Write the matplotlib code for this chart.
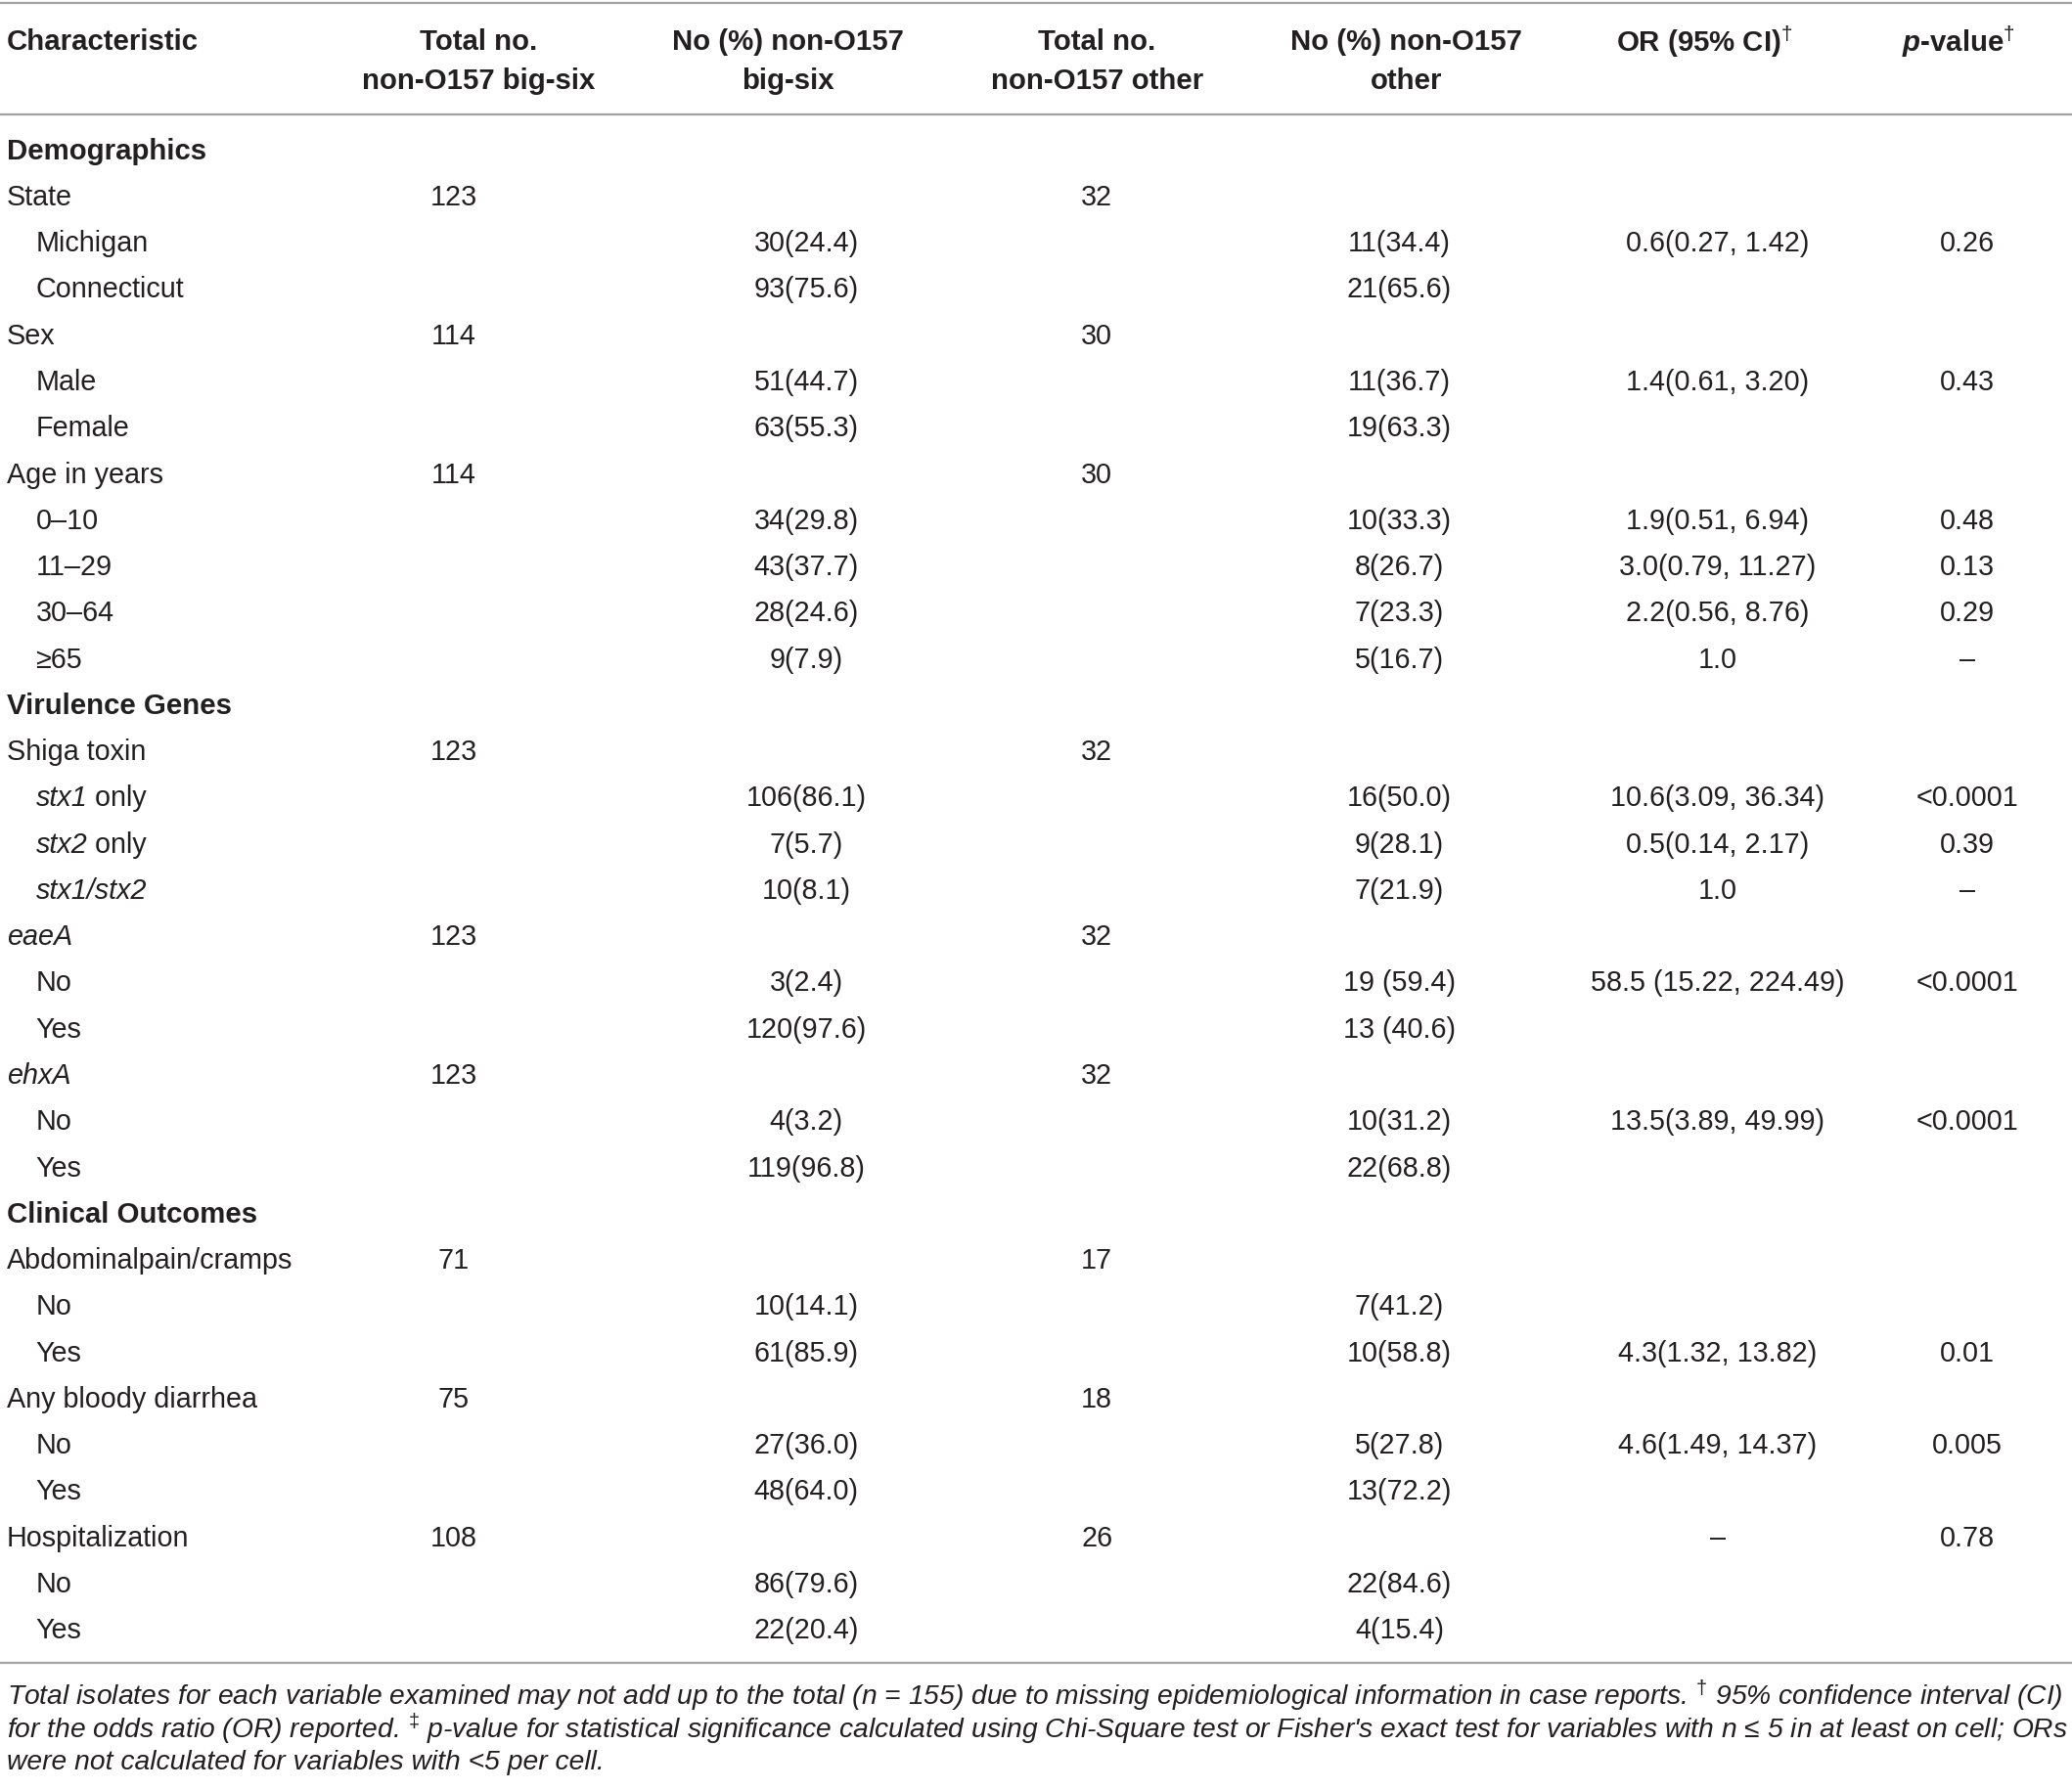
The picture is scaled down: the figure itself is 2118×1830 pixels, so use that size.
import matplotlib
matplotlib.use("Agg")
import matplotlib.pyplot as plt

plt.rcParams['font.family'] = ['Liberation Sans', 'DejaVu Sans']
plt.rcParams['mathtext.fontset'] = 'custom'
plt.rcParams['mathtext.rm'] = 'Liberation Sans'
plt.rcParams['mathtext.it'] = 'Liberation Sans:italic'
plt.rcParams['mathtext.bf'] = 'Liberation Sans:bold'
plt.rcParams['mathtext.bfit'] = 'Liberation Sans:bold:italic'

# ---- table data ----
header_top = ["Characteristic", "Total no.", "No (%) non-O157", "Total no.",
              "No (%) non-O157", r"OR (95% CI)$^{\dagger}$", r"$\mathbfit{p}$-value$^{\dagger}$"]
header_bot = ["", "non-O157 big-six", "big-six", "non-O157 other", "other", "", ""]

# labels: "*...*" marks an italic run
labels = ["Demographics", "State", "Michigan", "Connecticut", "Sex", "Male", "Female",
          "Age in years", "0–10", "11–29", "30–64", "≥65",
          "Virulence Genes", "Shiga toxin", "*stx1* only", "*stx2* only",
          "*stx1/stx2*", "*eaeA*", "No", "Yes", "*ehxA*", "No", "Yes",
          "Clinical Outcomes", "Abdominalpain/cramps", "No", "Yes", "Any bloody diarrhea",
          "No", "Yes", "Hospitalization", "No", "Yes"]
# 0 = section heading, 1 = variable, 2 = level
levels = [0, 1, 2, 2, 1, 2, 2, 1, 2, 2, 2, 2,
          0, 1, 2, 2, 2, 1, 2, 2, 1, 2, 2,
          0, 1, 2, 2, 1, 2, 2, 1, 2, 2]

total_big6 = ["", "123", "", "", "114", "", "", "114", "", "", "", "",
              "", "123", "", "", "", "123", "", "", "123", "", "",
              "", "71", "", "", "75", "", "", "108", "", ""]
pct_big6 = ["", "", "30(24.4)", "93(75.6)", "", "51(44.7)", "63(55.3)", "", "34(29.8)",
            "43(37.7)", "28(24.6)", "9(7.9)",
            "", "", "106(86.1)", "7(5.7)", "10(8.1)", "", "3(2.4)", "120(97.6)", "", "4(3.2)",
            "119(96.8)",
            "", "", "10(14.1)", "61(85.9)", "", "27(36.0)", "48(64.0)", "", "86(79.6)", "22(20.4)"]
total_other = ["", "32", "", "", "30", "", "", "30", "", "", "", "",
               "", "32", "", "", "", "32", "", "", "32", "", "",
               "", "17", "", "", "18", "", "", "26", "", ""]
pct_other = ["", "", "11(34.4)", "21(65.6)", "", "11(36.7)", "19(63.3)", "", "10(33.3)",
             "8(26.7)", "7(23.3)", "5(16.7)",
             "", "", "16(50.0)", "9(28.1)", "7(21.9)", "", "19 (59.4)", "13 (40.6)", "",
             "10(31.2)", "22(68.8)",
             "", "", "7(41.2)", "10(58.8)", "", "5(27.8)", "13(72.2)", "", "22(84.6)", "4(15.4)"]
odds_ratio = ["", "", "0.6(0.27, 1.42)", "", "", "1.4(0.61, 3.20)", "", "", "1.9(0.51, 6.94)",
              "3.0(0.79, 11.27)", "2.2(0.56, 8.76)", "1.0",
              "", "", "10.6(3.09, 36.34)", "0.5(0.14, 2.17)", "1.0", "", "58.5 (15.22, 224.49)",
              "", "", "13.5(3.89, 49.99)", "",
              "", "", "", "4.3(1.32, 13.82)", "", "4.6(1.49, 14.37)", "", "–", "", ""]
p_values = ["", "", "0.26", "", "", "0.43", "", "", "0.48", "0.13", "0.29", "–",
            "", "", "<0.0001", "0.39", "–", "", "<0.0001", "", "", "<0.0001", "",
            "", "", "", "0.01", "", "0.005", "", "0.78", "", ""]

footnote = [
    r"Total isolates for each variable examined may not add up to the total (n = 155) due to "
    r"missing epidemiological information in case reports. $^{\dagger}$ 95% confidence interval (CI)",
    r"for the odds ratio (OR) reported. $^{\ddagger}$ p-value for statistical significance calculated "
    r"using Chi-Square test or Fisher's exact test for variables with n ≤ 5 in at least on cell; ORs",
    "were not calculated for variables with <5 per cell.",
]

# ---- layout (in reference pixel units) ----
W, H = 1568, 1355
ink = '#231f20'
rule = '#a3a3a3'
head_x = [5, 362, 596, 830, 1064, 1290, 1482]
val_x = [343, 610, 830, 1059, 1300, 1489]
row0, row_step = 114.5, 35.0
fs_body = 20.7
fs_head = 21.2
fs_note = 20.3

fig = plt.figure(figsize=(21.18, 18.30), dpi=100)
ax = fig.add_axes([0, 0, 1, 1])
ax.set_xlim(0, W)
ax.set_ylim(H, 0)
ax.axis('off')
renderer = fig.canvas.get_renderer()


def label_text(x, y, s, **kw):
    # draw a label split in italic / upright runs, side by side
    parts = s.split('*')
    for k, p in enumerate(parts):
        if not p:
            continue
        t = ax.text(x, y, p, ha='left', va='center',
                    fontstyle='italic' if k % 2 else 'normal', **kw)
        bb = t.get_window_extent(renderer)
        x = ax.transData.inverted().transform((bb.x1, 0))[0]


for y in (2, 87, 1259):
    ax.plot([0, W], [y, y], color=rule, lw=1.6, solid_capstyle='butt')

for i, (t, b) in enumerate(zip(header_top, header_bot)):
    ha = 'left' if i == 0 else 'center'
    ax.text(head_x[i], 31.5, t, ha=ha, va='center', fontsize=fs_head, fontweight='bold', color=ink)
    if b:
        ax.text(head_x[i], 61.5, b, ha=ha, va='center', fontsize=fs_head, fontweight='bold', color=ink)

cols = [total_big6, pct_big6, total_other, pct_other, odds_ratio, p_values]
for r, (lab, lev) in enumerate(zip(labels, levels)):
    y = row0 + r * row_step
    x = 27 if lev == 2 else 5
    label_text(x, y, lab, fontsize=fs_head if lev == 0 else fs_body,
               fontweight='bold' if lev == 0 else 'normal', color=ink)
    for c, col in enumerate(cols):
        if col[r]:
            ax.text(val_x[c], y, col[r], ha='center', va='center', fontsize=fs_body, color=ink)

for k, line in enumerate(footnote):
    ax.text(5, 1284 + k * 25, line, ha='left', va='center', fontsize=fs_note,
            fontstyle='italic', color=ink)

fig.savefig("out.png", dpi=100)
